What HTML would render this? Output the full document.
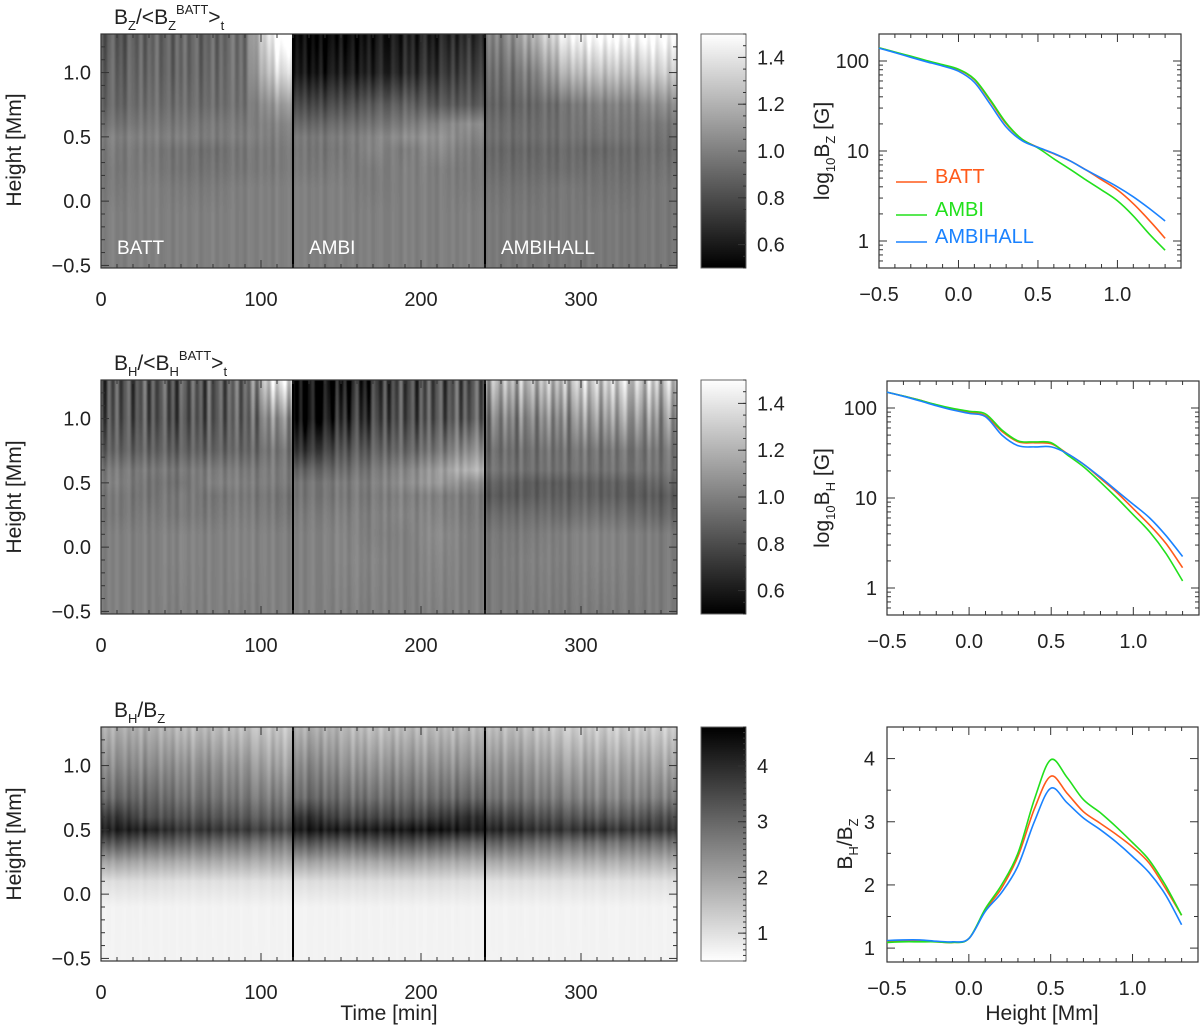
<!DOCTYPE html>
<html><head><meta charset="utf-8">
<style>
html,body{margin:0;padding:0;background:#fff;}
#wrap{position:relative;width:1200px;height:1028px;overflow:hidden;font-family:"Liberation Sans",sans-serif;}
canvas{position:absolute;}
svg{position:absolute;left:0;top:0;}
svg text{font-family:"Liberation Sans",sans-serif;fill:#222;}
</style></head>
<body>
<div id="wrap">
<canvas id="hm0" width="576" height="234" style="left:101px;top:34px"></canvas>
<canvas id="hm1" width="576" height="234" style="left:101px;top:380px"></canvas>
<canvas id="hm2" width="576" height="234" style="left:101px;top:727px"></canvas>
<canvas id="cb0" width="45" height="234" style="left:701px;top:34px"></canvas>
<canvas id="cb1" width="45" height="234" style="left:701px;top:380px"></canvas>
<canvas id="cb2" width="45" height="234" style="left:701px;top:727px"></canvas>
<svg id="svg" width="1200" height="1028" viewBox="0 0 1200 1028">
 <text x="114" y="24" font-size="21">B<tspan font-size="13" dy="6">Z</tspan><tspan dy="-6">/&lt;B</tspan><tspan font-size="13" dy="6">Z</tspan><tspan font-size="13" dy="-16">BATT</tspan><tspan dy="10">&gt;</tspan><tspan font-size="13" dy="6">t</tspan></text>
 <text x="114" y="370" font-size="21">B<tspan font-size="13" dy="6">H</tspan><tspan dy="-6">/&lt;B</tspan><tspan font-size="13" dy="6">H</tspan><tspan font-size="13" dy="-16">BATT</tspan><tspan dy="10">&gt;</tspan><tspan font-size="13" dy="6">t</tspan></text>
 <text x="114" y="717" font-size="21">B<tspan font-size="13" dy="6">H</tspan><tspan dy="-6">/B</tspan><tspan font-size="13" dy="6">Z</tspan></text>
 <text x="117" y="254" font-size="19" style="fill:#fff">BATT</text>
 <text x="309" y="254" font-size="19" style="fill:#fff">AMBI</text>
 <text x="501" y="254" font-size="19" style="fill:#fff">AMBIHALL</text>
 <text transform="translate(21,150) rotate(-90)" text-anchor="middle" font-size="21">Height [Mm]</text>
 <text transform="translate(21,497) rotate(-90)" text-anchor="middle" font-size="21">Height [Mm]</text>
 <text transform="translate(21,844) rotate(-90)" text-anchor="middle" font-size="21">Height [Mm]</text>
 <text x="389" y="1020" text-anchor="middle" font-size="21">Time [min]</text>
 <text x="1042" y="1020" text-anchor="middle" font-size="21">Height [Mm]</text>
 <text transform="translate(829,151) rotate(-90)" text-anchor="middle" font-size="21">log<tspan font-size="13" dy="6">10</tspan><tspan dy="-6">B</tspan><tspan font-size="13" dy="6">Z</tspan><tspan dy="-6"> [G]</tspan></text>
 <text transform="translate(829,498) rotate(-90)" text-anchor="middle" font-size="21">log<tspan font-size="13" dy="6">10</tspan><tspan dy="-6">B</tspan><tspan font-size="13" dy="6">H</tspan><tspan dy="-6"> [G]</tspan></text>
 <text transform="translate(852,844) rotate(-90)" text-anchor="middle" font-size="21">B<tspan font-size="13" dy="6">H</tspan><tspan dy="-6">/B</tspan><tspan font-size="13" dy="6">Z</tspan></text>
 <g>
  <line x1="896" y1="182" x2="927" y2="182" stroke="#ff5a1a" stroke-width="1.6"/>
  <text x="935" y="183" font-size="20" style="fill:#ff5a1a">BATT</text>
  <line x1="896" y1="215" x2="927" y2="215" stroke="#22e01c" stroke-width="1.6"/>
  <text x="935" y="216" font-size="20" style="fill:#22e01c">AMBI</text>
  <line x1="896" y1="242" x2="927" y2="242" stroke="#1a82ff" stroke-width="1.6"/>
  <text x="935" y="243" font-size="20" style="fill:#1a82ff">AMBIHALL</text>
 </g>
</svg>
</div>
<script>
// ---------- heatmap data ----------
const hmHeights = [1.3,1.0,0.75,0.6,0.5,0.4,0.25,0.1,-0.1,-0.52];
const hmTimes = [10,30,50,70,90,110,130,150,170,190,210,230,250,270,290,310,330,350];
const hmBz = [
 [0.85,0.88,0.9,0.88,0.95,1.55, 0.52,0.52,0.56,0.6,0.62,0.66, 1.0,1.2,1.45,1.5,1.5,1.5],
 [0.88,0.9,0.9,0.9,0.95,1.35, 0.58,0.6,0.62,0.66,0.7,0.75, 0.92,1.0,1.2,1.25,1.25,1.3],
 [0.9,0.93,0.93,0.92,0.95,1.1, 0.78,0.8,0.85,0.88,0.85,0.85, 0.88,0.9,0.95,1.0,1.0,1.05],
 [0.95,0.97,0.97,0.97,0.98,1.02, 0.9,0.92,0.95,0.98,1.02,1.05, 0.92,0.92,0.95,0.97,0.97,0.97],
 [1.0,1.0,1.0,0.98,1.0,1.0, 0.97,0.98,1.02,1.05,1.08,1.02, 0.93,0.93,0.95,0.95,0.96,0.95],
 [0.98,0.97,0.95,0.93,0.97,0.98, 0.96,0.96,1.02,0.98,1.05,0.98, 0.9,0.9,0.92,0.9,0.92,0.93],
 [0.97,0.98,0.95,0.95,0.97,0.98, 0.97,0.98,0.98,1.0,1.0,0.97, 0.92,0.92,0.93,0.93,0.93,0.95],
 [0.98,1.0,0.98,0.98,1.0,1.0, 1.0,1.0,0.98,1.0,1.0,0.98, 0.95,0.95,0.97,0.95,0.95,0.97],
 [1.0,1.0,1.0,1.0,1.0,1.0, 1.0,1.0,1.0,1.0,1.0,1.0, 0.97,0.97,0.97,0.97,0.97,0.97],
 [1.0,1.0,1.0,1.0,1.0,1.0, 1.0,1.0,1.0,1.0,1.0,1.0, 0.97,0.97,0.97,0.97,0.97,0.97]
];
const hmBh = [
 [0.8,0.82,0.85,0.82,0.9,1.4, 0.5,0.55,0.68,0.78,0.8,0.82, 1.2,1.2,1.25,1.3,1.3,1.25],
 [0.82,0.82,0.82,0.82,0.88,1.05, 0.52,0.65,0.75,0.8,0.82,0.85, 1.0,1.0,1.05,1.1,1.1,1.05],
 [0.88,0.88,0.88,0.88,0.9,0.95, 0.7,0.82,0.88,0.9,0.95,1.05, 0.92,0.92,0.95,0.95,0.95,0.95],
 [0.98,0.97,0.97,0.98,0.98,0.98, 0.88,0.92,0.97,1.02,1.1,1.2, 0.95,0.93,0.95,0.95,0.95,0.95],
 [1.0,0.95,0.95,1.0,1.0,0.98, 0.95,0.98,1.0,1.05,1.1,1.05, 0.88,0.85,0.87,0.88,0.87,0.9],
 [0.97,0.95,0.98,0.95,0.98,0.95, 0.95,0.97,0.98,1.0,1.0,0.97, 0.85,0.86,0.88,0.88,0.86,0.85],
 [0.97,0.98,0.98,0.97,1.0,0.97, 0.98,1.0,1.0,1.02,1.02,0.98, 0.92,0.93,0.93,0.95,0.93,0.9],
 [1.0,1.0,1.02,1.0,1.02,1.0, 1.0,1.02,1.0,1.0,1.05,1.0, 0.97,0.98,1.0,1.02,1.0,0.98],
 [1.0,1.0,1.02,1.0,1.02,1.0, 1.0,1.02,1.02,1.0,1.03,1.0, 0.98,1.0,1.0,1.02,1.0,0.98],
 [1.0,1.0,1.0,1.0,1.0,1.0, 1.0,1.0,1.0,1.0,1.0,1.0, 0.98,0.98,0.98,0.98,0.98,0.98]
];
const hmRatio = [
 [1.8,1.8,1.6,1.6,1.5,1.4, 1.8,1.7,1.5,1.6,1.6,1.6, 1.6,1.5,1.3,1.3,1.3,1.3],
 [2.4,2.4,2.3,2.3,2.2,2.0, 2.5,2.3,2.2,2.3,2.3,2.3, 2.3,2.2,2.0,2.0,2.0,2.0],
 [3.0,3.0,2.8,2.8,2.7,2.6, 3.0,2.9,2.8,2.9,2.9,3.0, 2.8,2.7,2.6,2.5,2.5,2.6],
 [3.8,3.4,3.3,3.3,3.2,3.1, 3.9,3.5,3.5,3.5,3.7,3.9, 3.6,3.4,3.3,3.2,3.2,3.4],
 [4.2,4.1,3.8,3.8,3.7,3.6, 4.3,4.2,4.2,4.3,4.4,4.2, 4.1,3.9,3.8,3.9,3.8,3.8],
 [3.3,3.1,3.0,2.9,2.8,2.7, 3.3,3.1,3.2,3.3,3.2,3.0, 3.1,2.9,2.8,2.8,2.8,2.8],
 [2.0,1.9,1.85,1.85,1.8,1.8, 2.0,1.9,1.9,2.0,1.9,1.85, 1.9,1.85,1.8,1.8,1.8,1.8],
 [1.05,1.05,1.0,1.0,1.0,1.0, 1.05,1.05,1.05,1.05,1.05,1.0, 1.0,1.0,1.0,1.0,1.0,1.0],
 [0.7,0.7,0.7,0.7,0.7,0.7, 0.7,0.7,0.7,0.7,0.7,0.7, 0.7,0.7,0.7,0.7,0.7,0.7],
 [0.7,0.7,0.7,0.7,0.7,0.7, 0.7,0.7,0.7,0.7,0.7,0.7, 0.7,0.7,0.7,0.7,0.7,0.7]
];
const stripes = [0.6,-0.8,0.3,0.9,-0.5,0.1,-0.9,0.7,0.2,-0.4,0.8,-0.7,0.4,-0.2,0.9,-0.6,0.0,0.5,-0.9,0.6,-0.3,0.8,-0.5,0.2,0.7,-0.8,0.3,-0.1,0.9,-0.7,0.5,-0.4,0.1,0.8,-0.6,0.3,-0.9,0.6,0.2,-0.5,0.7,-0.2,0.4,-0.8,0.9,-0.3,0.1,0.6,-0.7,0.5,-0.1,0.8,-0.6,0.3,-0.4,0.7,-0.9,0.2,0.5,-0.3,0.9,-0.5,0.1,0.6,-0.8,0.4,-0.2,0.7,-0.6,0.3,0.8,-0.4,-0.5,0.6,0.1,-0.7,0.9,-0.2];
const ampBz = [0.12,0.1,0.07,0.05,0.05,0.05,0.04,0.03,0.03,0.03];
const ampBh = [0.25,0.2,0.1,0.07,0.06,0.06,0.05,0.04,0.04,0.04];
const ampRatio = [0.3,0.35,0.35,0.3,0.3,0.25,0.15,0.06,0.03,0.02];
const segmentBounds = [120,240];

// ---------- profile data ----------
const profHeights = [-0.5,-0.4,-0.3,-0.2,-0.1,0.0,0.1,0.2,0.3,0.4,0.5,0.6,0.7,0.8,0.9,1.0,1.1,1.2,1.3];
const bzBatt = [140,125,112,100,90,80,62,36,20,13.5,11,9.3,7.8,6.2,4.8,3.7,2.6,1.7,1.07];
const bzAmbi = [140,126,113,101,91,81,63,37,20.5,13.5,10.8,8.2,6.3,4.8,3.7,2.8,1.9,1.2,0.79];
const bzAmbihall = [139,124,110,98,88,77,58,33,18.5,13,11,9.4,7.8,6.2,5.0,4.0,3.1,2.3,1.67];
const bhBatt = [150,136,122,108,97,90,82,55,42,41,40,31,23.5,16.5,11.5,7.6,5.0,3.1,1.68];
const bhAmbi = [150,136,122,109,99,92,86,57,43,42,41,30,22,15,10,6.5,4.2,2.4,1.2];
const bhAmbihall = [150,135,120,106,95,87,80,50,38,37,37,31,23.5,17,12,8.5,6,3.8,2.24];
const ratioBatt = [1.1,1.11,1.11,1.1,1.09,1.15,1.6,1.95,2.45,3.2,3.72,3.45,3.16,2.98,2.8,2.6,2.35,1.95,1.52];
const ratioAmbi = [1.09,1.1,1.1,1.1,1.09,1.15,1.62,2.0,2.5,3.35,3.98,3.7,3.35,3.15,2.92,2.67,2.4,2.0,1.52];
const ratioAmbihall = [1.12,1.13,1.13,1.11,1.1,1.15,1.58,1.88,2.3,3.0,3.53,3.3,3.06,2.88,2.68,2.45,2.2,1.85,1.37];
const heightTicks = [-0.5,0.0,0.5,1.0];
const heightTickLabels = ["\u22120.5","0.0","0.5","1.0"];
const timeTicks = [0,100,200,300];
const logTicks = [1,10,100];
const ratioTicks = [1,2,3,4];
const cbTicksA = [0.6,0.8,1.0,1.2,1.4];
const cbTicksB = [1,2,3,4];

const NS = "http://www.w3.org/2000/svg";
const svg = document.getElementById('svg');
function mk(tag, attrs, parent){
  const e = document.createElementNS(NS, tag);
  for (const k in attrs) e.setAttribute(k, attrs[k]);
  (parent || svg).appendChild(e);
  return e;
}

// ---------- heatmap rendering ----------
const HM = {x0:101, x1:677, tops:[34,380,727], h:234, hmin:-0.52, hmax:1.3, tmin:0, tmax:360};
function tScale(t){ return HM.x0 + (t-HM.tmin)/(HM.tmax-HM.tmin)*(HM.x1-HM.x0); }
function hScale(top, h){ return top + (HM.hmax-h)/(HM.hmax-HM.hmin)*HM.h; }

function interpRow(mat, r, t){
  const seg = t < segmentBounds[0] ? 0 : (t < segmentBounds[1] ? 1 : 2);
  const c0 = seg*6, c1 = seg*6+5;
  let v;
  if (t <= hmTimes[c0]) v = mat[r][c0];
  else if (t >= hmTimes[c1]) v = mat[r][c1];
  else {
    let i = c0; while (i < c1 && hmTimes[i+1] < t) i++;
    const f = (t-hmTimes[i])/(hmTimes[i+1]-hmTimes[i]);
    v = mat[r][i]*(1-f) + mat[r][i+1]*f;
  }
  return v;
}
function interpArr(arr, rIdx, rf){ return arr[rIdx]*(1-rf) + arr[rIdx+1]*rf; }
function stripeAt(t, off){
  const p = t/2.5 + off, i = Math.floor(p), f = p - i;
  const n = stripes.length;
  const a = stripes[((i%n)+n)%n], b = stripes[(((i+1)%n)+n)%n];
  const s = f*f*(3-2*f);
  return a*(1-s) + b*s;
}
function drawHeatmap(id, mat, amp, vmin, vmax, invert, off){
  const cv = document.getElementById(id), ctx = cv.getContext('2d');
  const img = ctx.createImageData(cv.width, cv.height);
  for (let py=0; py<cv.height; py++){
    const h = HM.hmax - (py+0.5)/cv.height*(HM.hmax-HM.hmin);
    let r = 0; while (r < hmHeights.length-2 && hmHeights[r+1] > h) r++;
    let rf = (hmHeights[r]-h)/(hmHeights[r]-hmHeights[r+1]); rf = Math.max(0, Math.min(1, rf));
    const a = interpArr(amp, r, rf);
    for (let px=0; px<cv.width; px++){
      const t = (px+0.5)/cv.width*(HM.tmax-HM.tmin);
      const v = interpRow(mat, r, t)*(1-rf) + interpRow(mat, r+1, t)*rf + a*stripeAt(t, off);
      let g = (v-vmin)/(vmax-vmin); g = Math.max(0, Math.min(1, g));
      if (invert) g = 1-g;
      const k = (py*cv.width+px)*4, c = Math.round(g*255);
      img.data[k]=c; img.data[k+1]=c; img.data[k+2]=c; img.data[k+3]=255;
    }
  }
  ctx.putImageData(img, 0, 0);
}
drawHeatmap('hm0', hmBz, ampBz, 0.5, 1.5, false, 0);
drawHeatmap('hm1', hmBh, ampBh, 0.5, 1.5, false, 17);
drawHeatmap('hm2', hmRatio, ampRatio, 0.5, 4.7, true, 33);

function drawColorbar(id, invert){
  const cv = document.getElementById(id), ctx = cv.getContext('2d');
  const gr = ctx.createLinearGradient(0,0,0,cv.height);
  gr.addColorStop(0, invert ? '#000' : '#fff');
  gr.addColorStop(1, invert ? '#fff' : '#000');
  ctx.fillStyle = gr; ctx.fillRect(0,0,cv.width,cv.height);
}
drawColorbar('cb0', false); drawColorbar('cb1', false); drawColorbar('cb2', true);

// ---------- heatmap axes ----------
const names = ['bz-ratio','bh-ratio','bh-bz'];
HM.tops.forEach(function(top, p){
  const bottom = top + HM.h;
  const fr = mk('rect', {x:HM.x0, y:top, width:HM.x1-HM.x0, height:HM.h, fill:'none', stroke:'#333', 'stroke-width':1.2});
  
  
  segmentBounds.forEach(function(tb){
    const l = mk('line', {x1:tScale(tb), x2:tScale(tb), y1:top, y2:bottom, stroke:'#000', 'stroke-width':2});
    
    
  });
  for (let t=0; t<=360; t+=10){
    const len = (t%100===0) ? 8 : 4, x = tScale(t);
    mk('line', {x1:x, x2:x, y1:bottom, y2:bottom-len, stroke:'#333'});
    mk('line', {x1:x, x2:x, y1:top, y2:top+len, stroke:'#333'});
  }
  timeTicks.forEach(function(t){
    const tx = mk('text', {x:tScale(t), y:bottom+38, 'text-anchor':'middle', 'font-size':20});
    tx.textContent = String(t);
    
    
  });
  for (let i=-5; i<=13; i++){
    const h = i/10, y = hScale(top, h), len = (i%5===0) ? 8 : 4;
    mk('line', {x1:HM.x0, x2:HM.x0+len, y1:y, y2:y, stroke:'#333'});
    mk('line', {x1:HM.x1, x2:HM.x1-len, y1:y, y2:y, stroke:'#333'});
  }
  heightTicks.forEach(function(h, i){
    const tx = mk('text', {x:HM.x0-10, y:hScale(top,h)+7, 'text-anchor':'end', 'font-size':20});
    tx.textContent = heightTickLabels[i];
    
    
  });
  const cbx0 = 701, cbx1 = 746;
  const cf = mk('rect', {x:cbx0, y:top, width:cbx1-cbx0, height:HM.h, fill:'none', stroke:'#666', 'stroke-width':1});
  
  
  const cmin = 0.5, cmax = p<2 ? 1.5 : 4.7;
  const cy = function(v){ return top + (cmax-v)/(cmax-cmin)*HM.h; };
  const minorStep = p<2 ? 0.05 : 0.1;
  for (let v = cmin; v <= cmax+1e-6; v += minorStep){
    mk('line', {x1:cbx1, x2:cbx1-3, y1:cy(v), y2:cy(v), stroke:'#333'});
  }
  (p<2 ? cbTicksA : cbTicksB).forEach(function(v){
    mk('line', {x1:cbx1, x2:cbx1-8, y1:cy(v), y2:cy(v), stroke:'#333'});
    const tx = mk('text', {x:cbx1+11, y:cy(v)+7, 'font-size':20});
    tx.textContent = p<2 ? v.toFixed(1) : String(v);
    
    
  });
});

// ---------- profile plots ----------
const RP = [
  {x0:879, x1:1181, y0:34, y1:268, log:true, ymin:-0.3, ymax:2.3, series:[bzBatt,bzAmbi,bzAmbihall], name:'bz-profile'},
  {x0:887, x1:1199, y0:381, y1:615, log:true, ymin:-0.3, ymax:2.3, series:[bhBatt,bhAmbi,bhAmbihall], name:'bh-profile'},
  {x0:887, x1:1198, y0:727, y1:962, log:false, ymin:0.78, ymax:4.5, series:[ratioBatt,ratioAmbi,ratioAmbihall], name:'ratio-profile'}
];
const colors = ['#ff5a1a','#22e01c','#1a82ff'];
const seriesNames = ['batt','ambi','ambihall'];
const xmin = -0.5, xmax = 1.4;
RP.forEach(function(P){
  const xs = function(h){ return P.x0 + (h-xmin)/(xmax-xmin)*(P.x1-P.x0); };
  const ys = function(v){ const u = P.log ? Math.log10(v) : v; return P.y0 + (P.ymax-u)/(P.ymax-P.ymin)*(P.y1-P.y0); };
  const fr = mk('rect', {x:P.x0, y:P.y0, width:P.x1-P.x0, height:P.y1-P.y0, fill:'none', stroke:'#333', 'stroke-width':1.2});
  
  
  for (let i=-5; i<=14; i++){
    const x = xs(i/10), len = (i%5===0) ? 8 : 4;
    mk('line', {x1:x, x2:x, y1:P.y1, y2:P.y1-len, stroke:'#333'});
    mk('line', {x1:x, x2:x, y1:P.y0, y2:P.y0+len, stroke:'#333'});
  }
  heightTicks.forEach(function(h, i){
    const tx = mk('text', {x:xs(h), y:P.y1+33, 'text-anchor':'middle', 'font-size':20});
    tx.textContent = heightTickLabels[i];
    
    
  });
  if (P.log){
    for (let d=-1; d<=2; d++){
      for (let m=1; m<=9; m++){
        const v = m*Math.pow(10,d), lv = Math.log10(v);
        if (lv < P.ymin || lv > P.ymax) continue;
        const y = ys(v), len = m===1 ? 8 : 4;
        mk('line', {x1:P.x0, x2:P.x0+len, y1:y, y2:y, stroke:'#333'});
        mk('line', {x1:P.x1, x2:P.x1-len, y1:y, y2:y, stroke:'#333'});
      }
    }
    logTicks.forEach(function(v){
      const tx = mk('text', {x:P.x0-10, y:ys(v)+7, 'text-anchor':'end', 'font-size':20});
      tx.textContent = String(v);
      
      
    });
  } else {
    for (let v=1; v<=4.5; v+=0.5){
      const y = ys(v), len = (Math.abs(v-Math.round(v))<1e-6) ? 8 : 4;
      mk('line', {x1:P.x0, x2:P.x0+len, y1:y, y2:y, stroke:'#333'});
      mk('line', {x1:P.x1, x2:P.x1-len, y1:y, y2:y, stroke:'#333'});
    }
    ratioTicks.forEach(function(v){
      const tx = mk('text', {x:P.x0-12, y:ys(v)+7, 'text-anchor':'end', 'font-size':20});
      tx.textContent = String(v);
      
      
    });
  }
  P.series.forEach(function(vals, si){
    const pts = vals.map(function(v, i){ return [xs(profHeights[i]), ys(v)]; });
    let d = 'M' + pts[0][0].toFixed(1) + ',' + pts[0][1].toFixed(1);
    for (let i=0; i<pts.length-1; i++){
      const p0 = pts[Math.max(0,i-1)], p1 = pts[i], p2 = pts[i+1], p3 = pts[Math.min(pts.length-1,i+2)];
      const c1x = p1[0]+(p2[0]-p0[0])/6, c1y = p1[1]+(p2[1]-p0[1])/6;
      const c2x = p2[0]-(p3[0]-p1[0])/6, c2y = p2[1]-(p3[1]-p1[1])/6;
      d += ' C' + c1x.toFixed(1)+','+c1y.toFixed(1)+' '+c2x.toFixed(1)+','+c2y.toFixed(1)+' '+p2[0].toFixed(1)+','+p2[1].toFixed(1);
    }
    const path = mk('path', {d:d, fill:'none', stroke:colors[si], 'stroke-width':1.6});
    
    
  });
});
</script>
</body></html>
